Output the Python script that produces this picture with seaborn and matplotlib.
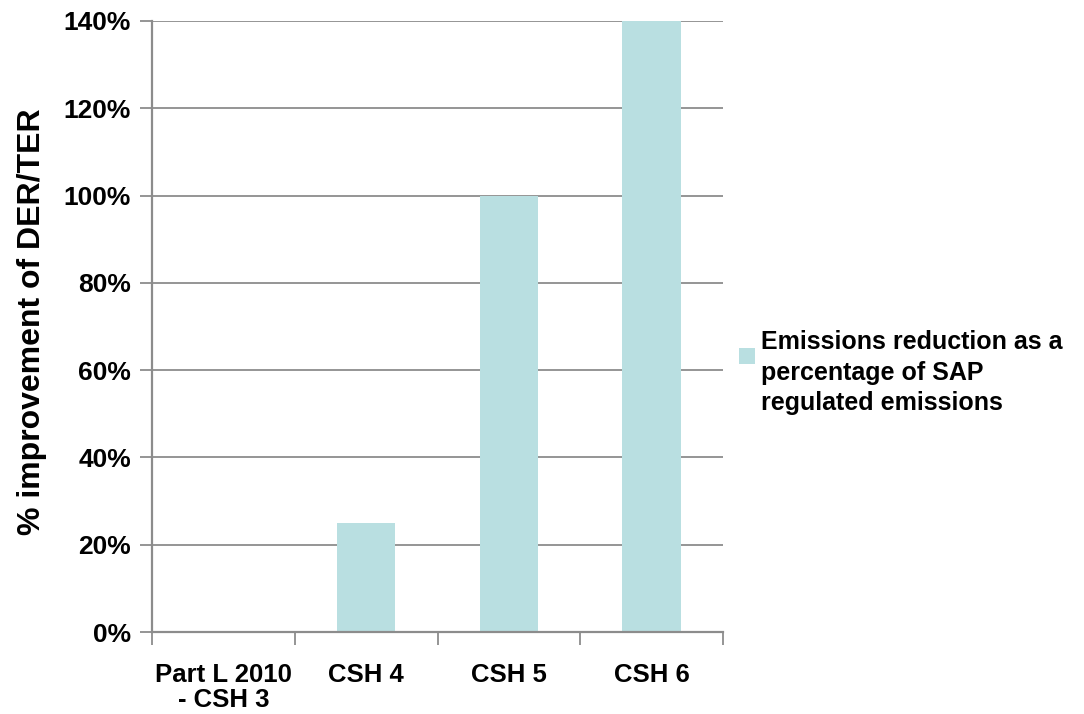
import matplotlib
matplotlib.use("Agg")
import matplotlib.pyplot as plt
import seaborn as sns
import pandas as pd
from matplotlib.patches import Patch, Rectangle
from matplotlib.legend_handler import HandlerBase
from matplotlib.ticker import MultipleLocator, FuncFormatter

categories = ["Part L 2010\n- CSH 3", "CSH 4", "CSH 5", "CSH 6"]
values = [0, 25, 100, 140]
series_name = "Emissions reduction as a\npercentage of SAP\nregulated emissions"

sns.set_style("white")
plt.rcParams["font.family"] = ["Liberation Sans", "DejaVu Sans"]
plt.rcParams["font.weight"] = "bold"
plt.rcParams["text.color"] = "black"
plt.rcParams["axes.labelcolor"] = "black"
plt.rcParams["xtick.color"] = "black"
plt.rcParams["ytick.color"] = "black"
plt.rcParams["ytick.left"] = True
plt.rcParams["xtick.bottom"] = True

bar_color = "#B9DFE1"
axis_gray = "#8C8C8C"


class TopSquareHandler(HandlerBase):
    """Legend key drawn as a small square level with the first text line."""

    def create_artists(self, legend, orig_handle, xdescent, ydescent,
                       width, height, fontsize, trans):
        side = 0.62 * fontsize
        x0 = -xdescent + width - side
        y0 = -ydescent + height - side - 0.18 * fontsize
        rect = Rectangle((x0, y0), side, side,
                         facecolor=orig_handle.get_facecolor(),
                         edgecolor="none", transform=trans)
        return [rect]


df = pd.DataFrame({"category": categories, "value": values})

fig = plt.figure(figsize=(10.84, 7.14), dpi=100)
ax = fig.add_axes([0.1402, 0.1148, 0.5268, 0.8558])

sns.barplot(data=df, x="category", y="value", color=bar_color, width=0.41,
            saturation=1, linewidth=0, edgecolor="none", ax=ax)

ax.set_ylim(0, 140)
ax.set_xlim(-0.5, len(categories) - 0.5)
ax.yaxis.set_major_locator(MultipleLocator(20))
ax.yaxis.set_major_formatter(FuncFormatter(lambda v, p: f"{int(v)}%"))
ax.grid(axis="y", color=axis_gray, linewidth=1.3)
ax.set_axisbelow(True)

for side in ["top", "right"]:
    ax.spines[side].set_visible(False)
for side in ["left", "bottom"]:
    ax.spines[side].set_color(axis_gray)
    ax.spines[side].set_linewidth(1.6)

ax.tick_params(axis="y", which="major", left=True, direction="out", length=9,
               width=1.3, color=axis_gray, labelcolor="black", labelsize=19,
               pad=6)
# category labels centred, tick marks on category boundaries
ax.set_xticks(range(len(categories)))
ax.set_xticklabels(categories, fontsize=18.5, fontweight="bold",
                   linespacing=1.05, ha="center", color="black")
ax.tick_params(axis="x", which="major", bottom=False, length=0, pad=22)
ax.set_xticks([i - 0.5 for i in range(len(categories) + 1)], minor=True)
ax.tick_params(axis="x", which="minor", bottom=True, direction="out",
               length=9, width=1.3, color=axis_gray)
for lbl in ax.get_yticklabels():
    lbl.set_fontweight("bold")

ax.set_xlabel("")
ax.set_ylabel("% improvement of DER/TER", fontsize=23, fontweight="bold",
              color="black")
ax.yaxis.set_label_coords(-0.184, 0.508)

handle = Patch(facecolor=bar_color, edgecolor="none")
leg = fig.legend([handle], [series_name], loc="center left",
                 bbox_to_anchor=(0.661, 0.478), frameon=False,
                 prop={"size": 18, "weight": "bold"}, handlelength=0.62,
                 handleheight=3.5, handletextpad=0.25,
                 handler_map={Patch: TopSquareHandler()})
for txt in leg.get_texts():
    txt.set_linespacing(1.35)

fig.savefig("out.png", dpi=100)
